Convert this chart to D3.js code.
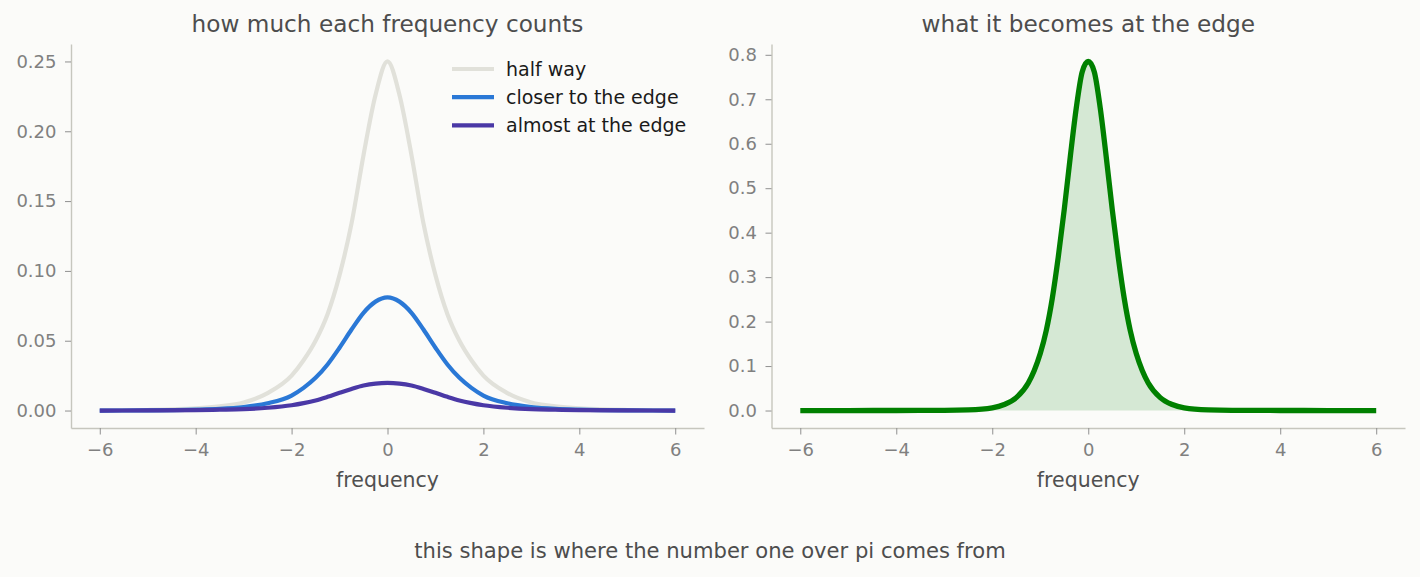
<!DOCTYPE html>
<html>
<head>
<meta charset="utf-8">
<script src="https://cdn.jsdelivr.net/npm/d3@7"></script>
<style>
  html, body { margin: 0; padding: 0; background: #fbfbf9; }
  svg { display: block; font-family: "DejaVu Sans", sans-serif; }
</style>
</head>
<body>
<svg id="viz" width="1420" height="577"></svg>
<script>
// left panel: values
const freqLeft = [-6, -5, -4, -3.5, -3, -2.5, -2, -1.75, -1.5, -1.25, -1, -0.75, -0.5, -0.25, 0,
                  0.25, 0.5, 0.75, 1, 1.25, 1.5, 1.75, 2, 2.5, 3, 3.5, 4, 5, 6];
const halfWay = [0.0001, 0.0004, 0.0015, 0.003, 0.0058, 0.0125, 0.025, 0.036, 0.050, 0.069, 0.097, 0.134, 0.183, 0.226, 0.250,
                 0.226, 0.183, 0.134, 0.097, 0.069, 0.050, 0.036, 0.025, 0.0125, 0.0058, 0.003, 0.0015, 0.0004, 0.0001];
const closerEdge = [0, 0.0001, 0.0006, 0.0012, 0.0025, 0.0052, 0.0107, 0.0162, 0.0234, 0.033, 0.045, 0.058, 0.070, 0.078, 0.081,
                    0.078, 0.070, 0.058, 0.045, 0.033, 0.0234, 0.0162, 0.0107, 0.0052, 0.0025, 0.0012, 0.0006, 0.0001, 0];
const almostEdge = [0, 0.0001, 0.0003, 0.0006, 0.0010, 0.0020, 0.0038, 0.0053, 0.0072, 0.0098, 0.0127, 0.0155, 0.0179, 0.0193, 0.0198,
                    0.0193, 0.0179, 0.0155, 0.0127, 0.0098, 0.0072, 0.0053, 0.0038, 0.0020, 0.0010, 0.0006, 0.0003, 0.0001, 0];
const seriesNames = ["half way", "closer to the edge", "almost at the edge"];
const seriesColors = ["#e1e1da", "#2a78d6", "#4a38a6"];

// right panel
const freqRight = [-6, -5, -4, -3, -2.5, -2, -1.75, -1.5, -1.25, -1.125, -1, -0.875, -0.75, -0.625, -0.5, -0.375, -0.25, -0.125, 0,
                   0.125, 0.25, 0.375, 0.5, 0.625, 0.75, 0.875, 1, 1.125, 1.25, 1.5, 1.75, 2, 2.5, 3, 4, 5, 6];
const atEdge = [0, 0, 0.0001, 0.0003, 0.0013, 0.006, 0.0135, 0.029, 0.062, 0.090, 0.128, 0.180, 0.252, 0.345, 0.452, 0.570, 0.680, 0.762, 0.785,
                0.762, 0.680, 0.570, 0.452, 0.345, 0.252, 0.180, 0.128, 0.090, 0.062, 0.029, 0.0135, 0.006, 0.0013, 0.0003, 0.0001, 0, 0];

const xTicks = [-6, -4, -2, 0, 2, 4, 6];
const leftYTicks = [0, 0.05, 0.10, 0.15, 0.20, 0.25];
const rightYTicks = [0, 0.1, 0.2, 0.3, 0.4, 0.5, 0.6, 0.7, 0.8];

const svg = d3.select("#viz");
const plotTop = 44, plotBottom = 428;

// spines, ticks, labels for one panel
function drawAxes(x, y, yTicks, yFmt, title) {
    const g = svg.append("g");
    const xa = g.append("g")
        .attr("transform", `translate(0,${plotBottom})`)
        .call(d3.axisBottom(x).tickValues(xTicks).tickSizeInner(6.5).tickSizeOuter(0).tickPadding(9).tickFormat(d3.format("d")));
    const ya = g.append("g")
        .attr("transform", `translate(${x.range()[0]},0)`)
        .call(d3.axisLeft(y).tickValues(yTicks).tickSizeInner(6).tickSizeOuter(0).tickPadding(8.5).tickFormat(d3.format(yFmt)));
    [xa, ya].forEach(a => {
        a.select(".domain").attr("stroke", "#c6c6be").attr("stroke-width", 1.4);
        a.selectAll(".tick line").attr("stroke", "#909090").attr("stroke-width", 1);
        a.selectAll(".tick text").attr("fill", "#808080").style("font-size", "18px").style("font-family", "DejaVu Sans");
    });
    const cx = (x.range()[0] + x.range()[1]) / 2;
    g.append("text")
        .attr("x", cx).attr("y", 32)
        .attr("text-anchor", "middle")
        .attr("fill", "#4d4d4d")
        .style("font-size", "23.2px")
        .text(title);
    g.append("text")
        .attr("x", cx).attr("y", 487)
        .attr("text-anchor", "middle")
        .attr("fill", "#505050")
        .style("font-size", "20.5px")
        .text("frequency");
}

// left panel
const xL = d3.scaleLinear().domain([-6.6, 6.6]).range([71, 704]);
const yL = d3.scaleLinear().domain([-0.0125, 0.2625]).range([plotBottom, plotTop]);
drawAxes(xL, yL, leftYTicks, ".2f", "how much each frequency counts");

const lineL = d3.line()
    .x(d => xL(d[0]))
    .y(d => yL(d[1]))
    .curve(d3.curveMonotoneX);

[halfWay, closerEdge, almostEdge].forEach((vals, i) => {
    svg.append("path")
        .datum(freqLeft.map((f, j) => [f, vals[j]]))
        .attr("d", lineL)
        .attr("fill", "none")
        .attr("stroke", seriesColors[i])
        .attr("stroke-width", 4.2)
        .attr("stroke-linejoin", "round");
});

// legend
const legend = svg.append("g").attr("transform", "translate(452,69)");
seriesNames.forEach((name, i) => {
    const row = legend.append("g").attr("transform", `translate(0,${i * 28.2})`);
    row.append("line")
        .attr("x1", 0).attr("x2", 42)
        .attr("stroke", seriesColors[i])
        .attr("stroke-width", 4.2);
    row.append("text")
        .attr("x", 54).attr("y", 0)
        .attr("dominant-baseline", "central")
        .attr("fill", "#1a1a1a")
        .style("font-size", "19px")
        .text(name);
});

// right panel
const xR = d3.scaleLinear().domain([-6.6, 6.6]).range([771.5, 1405]);
const yR = d3.scaleLinear().domain([-0.0393, 0.8243]).range([plotBottom, plotTop]);
drawAxes(xR, yR, rightYTicks, ".1f", "what it becomes at the edge");

const edgePts = freqRight.map((f, j) => [f, atEdge[j]]);
svg.append("path")
    .datum(edgePts)
    .attr("d", d3.area().x(d => xR(d[0])).y0(yR(0)).y1(d => yR(d[1])).curve(d3.curveMonotoneX))
    .attr("fill", "green")
    .attr("fill-opacity", 0.15);
svg.append("path")
    .datum(edgePts)
    .attr("d", d3.line().x(d => xR(d[0])).y(d => yR(d[1])).curve(d3.curveMonotoneX))
    .attr("fill", "none")
    .attr("stroke", "green")
    .attr("stroke-width", 5.3)
    .attr("stroke-linejoin", "round");

// caption
svg.append("text")
    .attr("x", 710).attr("y", 550)
    .attr("text-anchor", "middle")
    .attr("dominant-baseline", "central")
    .attr("fill", "#4d4d4d")
    .style("font-size", "21.1px")
    .text("this shape is where the number one over pi comes from");
</script>
</body>
</html>
